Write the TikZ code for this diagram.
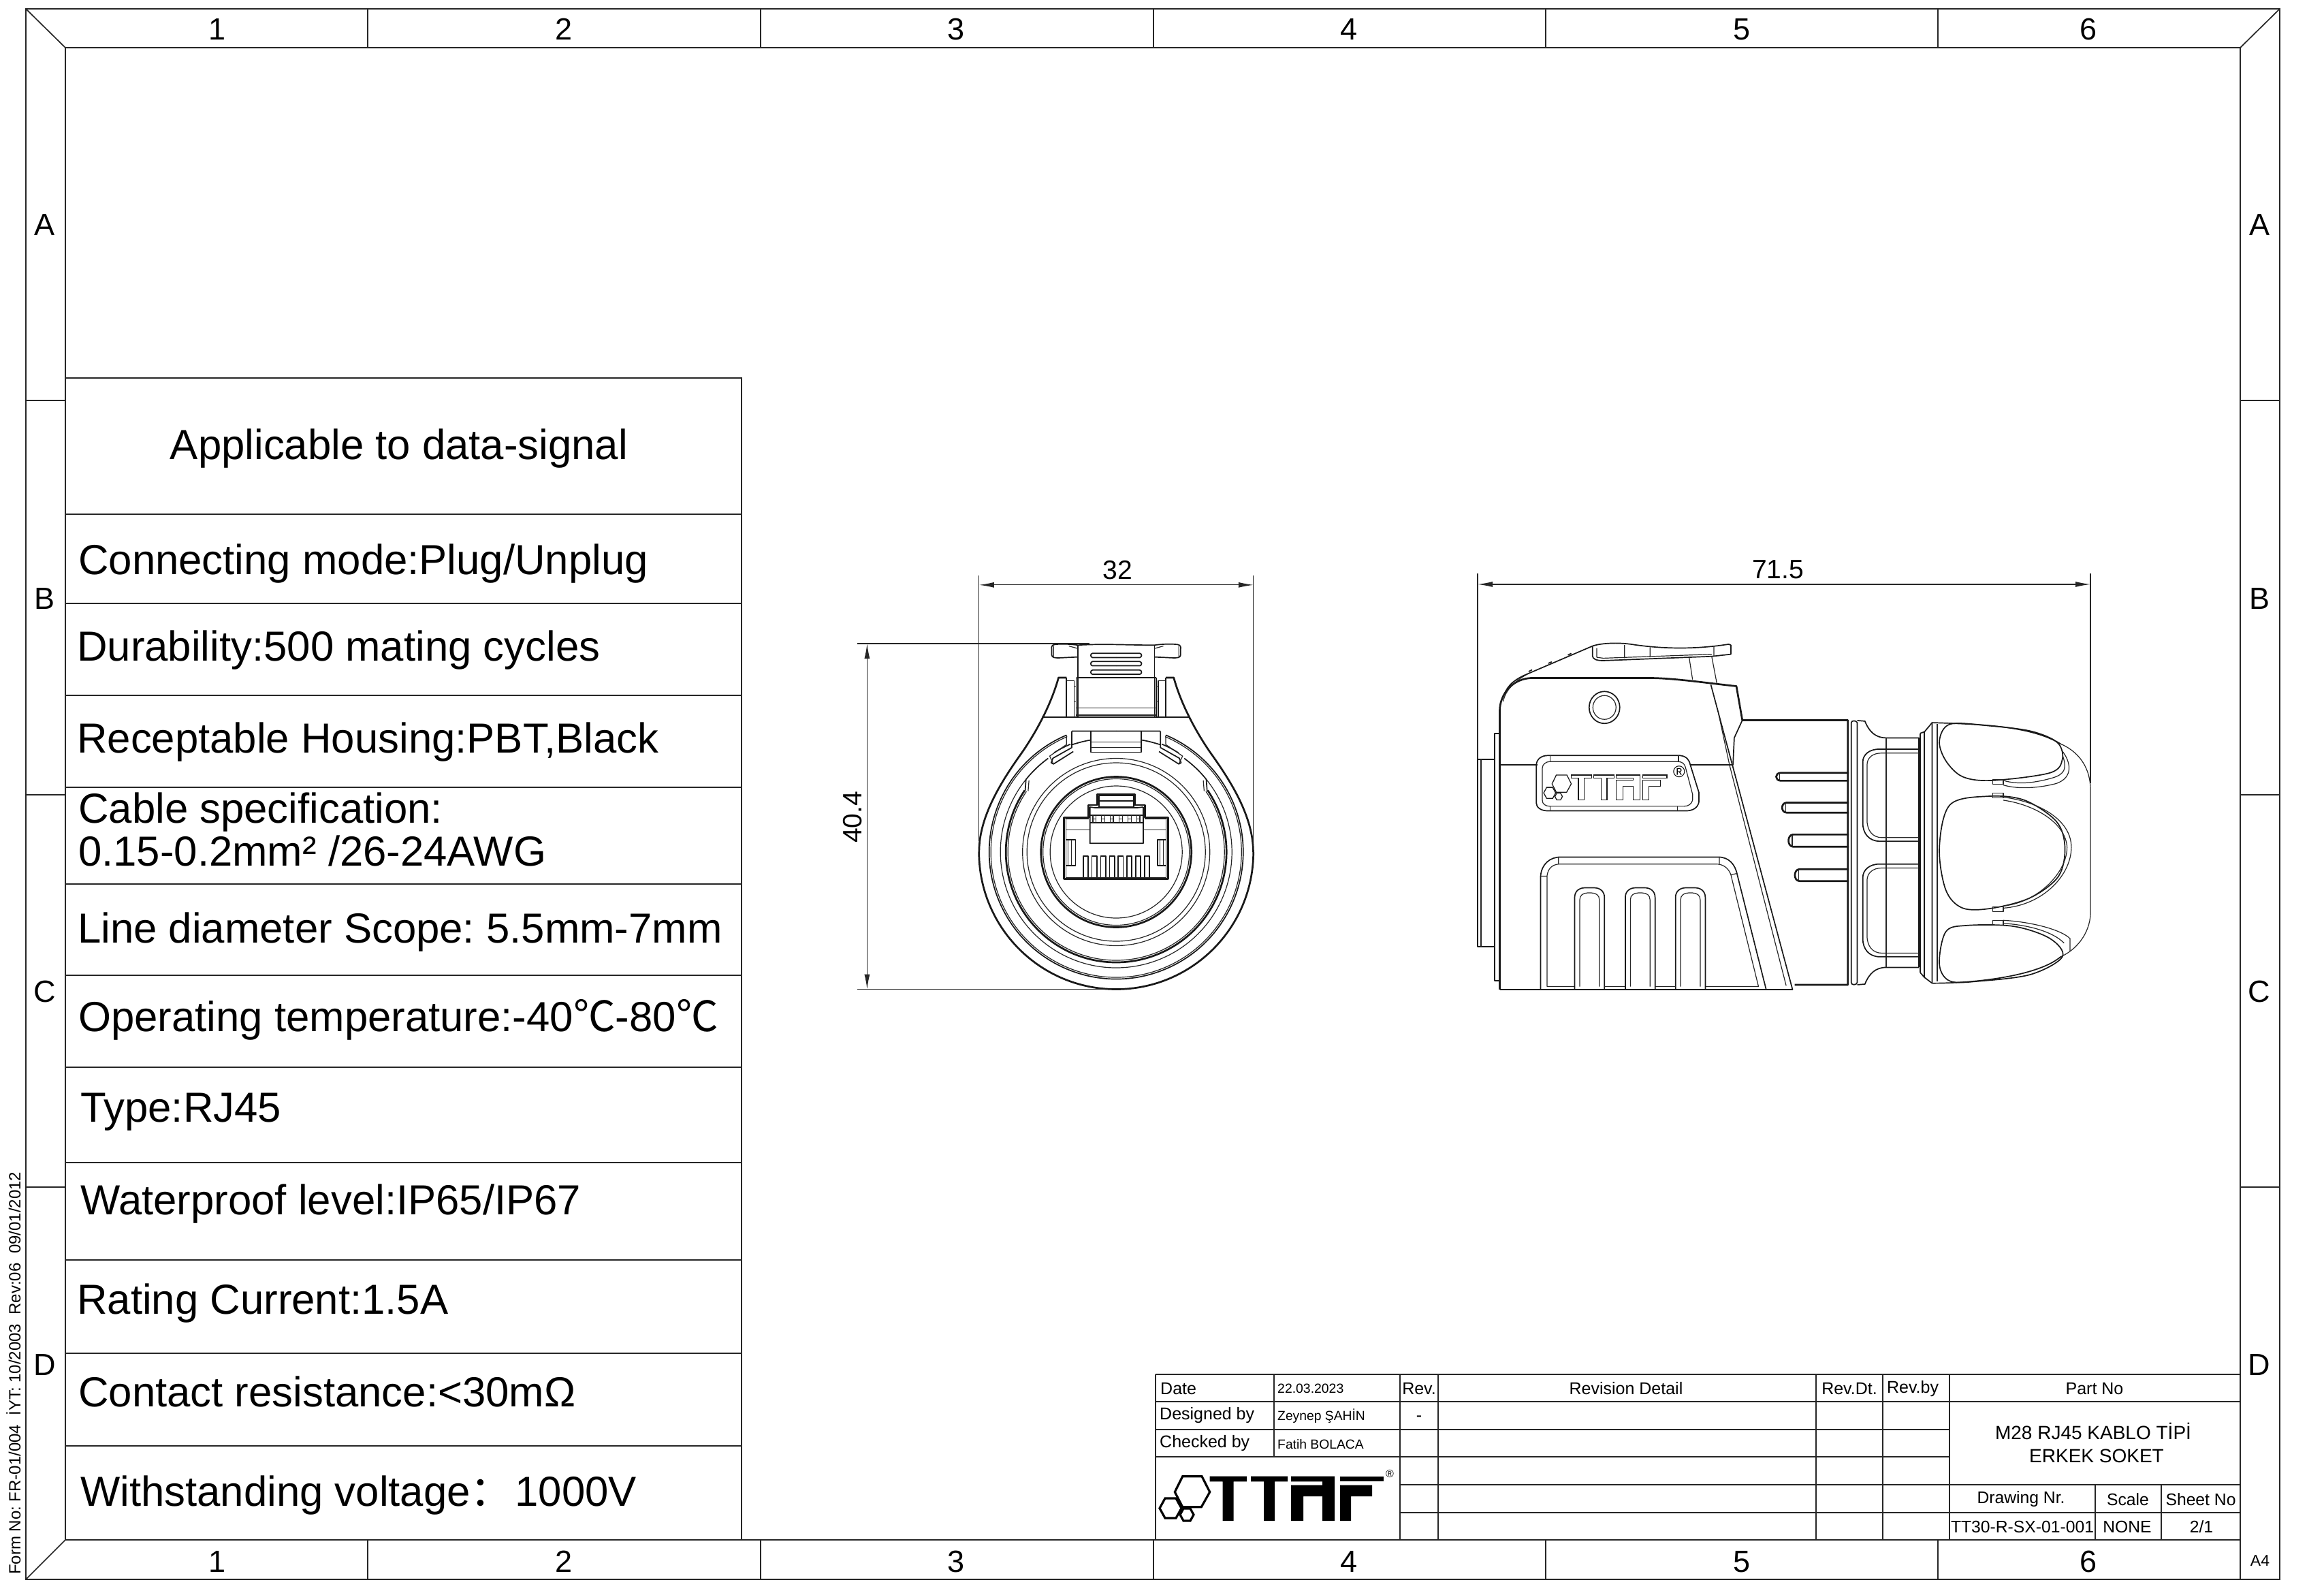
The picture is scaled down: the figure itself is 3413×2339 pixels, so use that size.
\documentclass[tikz,border=0pt]{standalone}
\usepackage{fontspec}
\setmainfont{Liberation Sans}
\newfontfamily\cjk{Noto Sans CJK SC}
\usetikzlibrary{arrows.meta}
\frenchspacing
\newcommand\fsz[1]{\fontsize{#1}{#1}\selectfont}
\tikzset{
 fz/.style={x=0.43384pt,y=-0.44643pt,shift={(1240pt,-820pt)}},
 sz/.style={x=0.625pt,y=-0.44643pt,shift={(2170pt,-820pt)}},
 rz/.style={x=0.33333pt,y=-0.33333pt,shift={(1500pt,-1120pt)}},
 cz/.style={x=1pt,y=1pt,shift={(1639.2pt,-1251pt)}},
 frame/.style={line width=1.7pt,draw=black!85,line join=miter},
 thn/.style={line width=1.2pt,draw=black!85,line join=round},
 med/.style={line width=1.7pt,draw=black!90,line join=round},
 thk/.style={line width=2.7pt,draw=black!90,line join=round},
 dimln/.style={line width=1.2pt,draw=black!85},
 dimarr/.style={dimln,{Latex[length=22pt,width=8pt]}-{Latex[length=22pt,width=8pt]}},
 txt/.style={inner sep=0pt,anchor=base west,text=black},
 ctr/.style={inner sep=0pt,anchor=base,text=black},
}
\newcommand\bigtxt[4]{\node[txt,font=\fsz{61.7}] (#1) at (#2,#3) {#4};}
\newcommand\ttb[5]{\node[ctr,font=\fsz{#4}] (#1) at (#2,#3) {#5};}
\newcommand\ttl[5]{\node[txt,font=\fsz{#4}] (#1) at (#2,#3) {#5};}
\newcommand\ttaflogo[2]{%
 \draw[#1] (1725.3,2190.7)--(1736.7,2167.7)--(1765,2167.7)--(1776.7,2190.7)--(1764.3,2212.7)--(1736.7,2212.7)--cycle;
 \draw[#1] (1703,2214.5)--(1711,2200)--(1727,2200)--(1735,2214.5)--(1727,2229)--(1711,2229)--cycle;
 \draw[#1] (1733,2224)--(1738,2215)--(1748,2215)--(1753,2224)--(1748,2233)--(1738,2233)--cycle;
 \path[#2] (1776.5,2167.7)--(1831,2167.7)--(1831,2175.3)--(1811.6,2175.3)--(1811.6,2233)--(1795.7,2233)--(1795.7,2175.3)--(1776.5,2175.3)--cycle;
 \path[#2] (1837,2167.7)--(1891,2167.7)--(1891,2175.3)--(1872,2175.3)--(1872,2233)--(1856,2233)--(1856,2175.3)--(1837,2175.3)--cycle;
 \path[#2] (1896,2167.7)--(1960,2167.7)--(1960,2233)--(1942,2233)--(1942,2197)--(1914,2197)--(1914,2233)--(1896,2233)--(1896,2180.7)--(1942,2180.7)--(1942,2175.3)--(1896,2175.3)--cycle;
 \path[#2] (1968,2167.7)--(2032,2167.7)--(2032,2175.3)--(1968,2175.3)--cycle;
 \path[#2] (1968,2180.7)--(2015,2180.7)--(2015,2197)--(1984,2197)--(1984,2233)--(1968,2233)--cycle;
}
\begin{document}
\begin{tikzpicture}[x=1pt,y=-1pt]
\useasboundingbox (0,0) rectangle (3413,2339);
% ---------- sheet frame
\draw[frame] (38,13) rectangle (3348,2319);
\draw[frame] (96,70) rectangle (3290,2261);
\draw[frame] (38,13)--(96,70) (3348,13)--(3290,70) (38,2319)--(96,2261);
\foreach \x in {540,1117,1694,2270,2846} \draw[frame] (\x,13)--(\x,70) (\x,2261)--(\x,2319);
\draw[frame] (3290,2261)--(3290,2319);
\foreach \y in {588,1167,1743} \draw[frame] (38,\y)--(96,\y) (3290,\y)--(3348,\y);
\foreach \n/\x in {1/319,2/828,3/1404,4/1981,5/2558,6/3067}{
 \node[ctr,font=\fsz{45}] (top\n) at (\x,59) {\n};
 \node[ctr,font=\fsz{45}] (bot\n) at (\x,2308) {\n};}
\foreach \n/\y in {A/345,B/894,C/1471,D/2019}{
 \node[ctr,font=\fsz{45}] (lf\n) at (66,\y) {\n};
 \node[ctr,font=\fsz{45}] (rt\n) at (3318,\y) {\n};}
\node[inner sep=0pt,anchor=base west,rotate=90,font=\fsz{24}] (form) at (30,2312) {Form No: FR-01/004\ \ İYT: 10/2003\ \ Rev:06\ \ 09/01/2012};
% ---------- specification table
\draw[frame] (96,555) rectangle (1089,2261);
\foreach \y in {755,886,1021,1156,1298,1432,1567,1707,1850,1987,2123} \draw[frame] (96,\y)--(1089,\y);
\node[ctr,font=\fsz{61.7}] (s0) at (586,674) {Applicable to data-signal};
\bigtxt{s1}{115}{843}{Connecting mode:Plug/Unplug}
\bigtxt{s2}{113}{970}{Durability:500 mating cycles}
\bigtxt{s3}{113}{1105}{Receptable Housing:PBT,Black}
\bigtxt{s4a}{115}{1208}{Cable specification:}
\bigtxt{s4b}{115}{1271}{0.15-0.2mm² /26-24AWG}
\bigtxt{s5}{114}{1384}{Line diameter Scope: 5.5mm-7mm}
\bigtxt{s6}{115}{1514}{Operating temperature:-40{\cjk ℃}-80{\cjk ℃}}
\bigtxt{s7}{118}{1647}{Type:RJ45}
\bigtxt{s8}{118}{1783}{Waterproof level:IP65/IP67}
\bigtxt{s9}{113}{1929}{Rating Current:1.5A}
\bigtxt{s10}{115}{2065}{Contact resistance:<30mΩ}
\bigtxt{s11}{118}{2211}{Withstanding voltage{\cjk ：}\hspace{4pt}1000V}
% ---------- title block
\draw[frame] (1697,2018)--(3290,2018) (1697,2018)--(1697,2261);
\draw[frame] (1697,2058)--(3290,2058) (1697,2099)--(2863,2099) (1697,2139)--(2863,2139);
\draw[frame] (2056,2180)--(3290,2180) (2056,2221)--(3290,2221);
\draw[frame] (1871,2018)--(1871,2139);
\foreach \x in {2056,2112,2667,2765,2863} \draw[frame] (\x,2018)--(\x,2261);
\foreach \x in {3077,3174} \draw[frame] (\x,2180)--(\x,2261);
\ttl{t1}{1704}{2047}{25}{Date}
\ttl{t2}{1703}{2084}{25}{Designed by}
\ttl{t3}{1703}{2125}{25}{Checked by}
\ttl{t4}{1876}{2045}{19.4}{22.03.2023}
\ttl{t5}{1876}{2085}{19.3}{Zeynep ŞAHİN}
\ttl{t6}{1876}{2127}{19.3}{Fatih BOLACA}
\ttb{t7}{2084}{2047}{25}{Rev.}
\ttb{t8}{2084}{2086}{25}{-}
\ttb{t9}{2388}{2047}{25}{Revision Detail}
\ttb{t10}{2716}{2047}{25}{Rev.Dt.}
\ttb{t11}{2809}{2045}{25}{Rev.by}
\ttb{t12}{3076}{2047}{25}{Part No}
\ttb{t13}{3074}{2113}{28}{M28 RJ45 KABLO TİPİ}
\ttb{t14}{3079}{2147}{28}{ERKEK SOKET}
\ttb{t15}{2968}{2207}{24.7}{Drawing Nr.}
\ttb{t16}{3125}{2210}{24.7}{Scale}
\ttb{t17}{3232}{2210}{24.7}{Sheet No}
\ttb{t18}{2970}{2250}{24.7}{TT30-R-SX-01-001}
\ttb{t19}{3124}{2250}{24.7}{NONE}
\ttb{t20}{3233}{2250}{24.7}{2/1}
\ttb{t21}{3319}{2299}{23}{A4}
\ttaflogo{line width=3.2pt,draw=black,line join=miter}{fill=black}
\node[ctr,font=\fsz{16}] (reg1) at (2041,2169) {®};
% ---------- front view dimensions
\begin{scope}[fz]
 \coordinate (fdl) at (456,87); \coordinate (fdr) at (1385,87);
 \coordinate (fvt) at (77,280); \coordinate (fvb) at (77,1417);
 \draw[dimln] (456,55)--(456,930) (1385,55)--(1385,960);
 \draw[dimln] (43,280)--(830,280) (43,1417)--(880,1417);
 \draw[dimarr] (fdl)--(fdr);
 \draw[dimarr] (fvt)--(fvb);
\end{scope}
\node[ctr,font=\fsz{39}] (d32) at (1641,850) {32};
\node[ctr,font=\fsz{39},rotate=90] (d404) at (1265,1200) {40.4};
\node[ctr,font=\fsz{39}] (d715) at (2611,849) {71.5};
% ---------- front view, circles
\begin{scope}[cz]
 \draw[thk] (180:201.5) arc[start angle=180,end angle=360,radius=201.5];
 \draw[med] (113:186.5) arc[start angle=113,end angle=427,radius=186.5];
 \draw[thn] (113:184) arc[start angle=113,end angle=427,radius=184];
 \draw[med] (113:172) arc[start angle=113,end angle=122,radius=172];
 \draw[med] (67:172) arc[start angle=67,end angle=58,radius=172];
 \draw[thn] (141:170) arc[start angle=141,end angle=399,radius=170];
 \draw[med] (126:170) arc[start angle=126,end angle=141,radius=170];
 \draw[med] (54:170) arc[start angle=54,end angle=39,radius=170];
 \draw[thk] (146:162) arc[start angle=146,end angle=394,radius=162];
 \draw[thn] (146:159) arc[start angle=146,end angle=394,radius=159];
 \draw[thn] (0,0) circle[radius=137.5pt] (0,0) circle[radius=131pt];
 \draw[thk] (0,0) circle[radius=110.5pt];
 \draw[thn] (0,0) circle[radius=107.5pt];
 \draw[thn] (0,0) circle[radius=97pt];
\end{scope}
% ---------- front view, top part and mirrored half
\begin{scope}[fz]
 \foreach \m/\sc in {0/1,1840/-1}{
 \begin{scope}[shift={(\m,0)},xscale=\sc]
  \draw[thk] (456,965) .. controls (456,850) and (530,735) .. (600,640) .. controls (650,570) and (700,480) .. (725,392)--(752,392);
  \draw[med] (752,392)--(752,522) (752,402)--(778,402)--(778,522) (785,392)--(785,522) (790,285)--(790,522);
  \draw[thn] (778,420)--(785,420) (778,470)--(785,470);
  \draw[med] (790,285) .. controls (770,282) and (735,280) .. (712,283) .. controls (702,285) and (700,290) .. (702,300) --(702,318) .. controls (703,326) and (712,327) .. (725,327) -- (790,324);
  \draw[thn] (708,288)--(708,322) (760,288) -- (790,296);
  \draw[med] (770,568)--(920,568) (770,568)--(770,622)--(706,657)--(700,672)--(708,676)--(775,635);
  \draw[med] (835,568)--(835,637)--(920,637);
  \draw[thn] (835,603)--(920,603) (835,622)--(920,622);
  \draw[thn] (752,582)--(752,612)--(695,650)--(708,676);
  \draw[med] (772,612) .. controls (795,605) and (815,600) .. (835,597);
  \draw[med] (612,765)--(615,725);
  \draw[thn] (622,765)--(625,730);
  % slots
  \draw[med] (920,312)--(840,312) .. controls (832,313) and (832,324) .. (840,326)--(920,326);
  \draw[med] (920,339)--(840,339) .. controls (832,340) and (832,352) .. (840,353)--(920,353);
  \draw[med] (920,367)--(840,367) .. controls (832,368) and (832,380) .. (840,381)--(920,381);
 \end{scope}}
 \draw[med] (790,285) .. controls (880,280) and (960,285) .. (1050,285);
 \draw[med] (668,522)--(1172,522);
 \draw[med] (785,392)--(1055,392);
 \draw[thn] (785,492)--(1055,492) (785,515)--(1055,515);
\end{scope}
% ---------- RJ45 jack
\begin{scope}[rz]
 \draw[thk] (296,242)--(188,242)--(188,512)--(646,512)--(646,242)--(544,242)--(544,186)--(500,186)--(500,138)--(334,138)--(334,186)--(296,186)--cycle;
 \draw[thn] (196,248)--(296,248) (544,248)--(638,248) (196,248)--(196,505)--(638,505)--(638,248);
 \draw[med] (342,145)--(342,195)--(495,195)--(495,145)--cycle (342,168)--(495,168);
 \draw[med] (325,198)--(510,198);
 \draw[med] (302,195)--(302,355)--(537,355)--(537,195) (302,195)--(325,198) (510,198)--(537,195);
 \draw[med] (302,230)--(537,230) (302,265)--(537,265);
 \foreach \x in {315,328,352,368,392,405,430,445,470,485,508,522} \draw[thn] (\x,230)--(\x,265);
 \foreach \x in {315,352,392,430,470,508} \draw[thn] (\x,247)--(\x+14,247);
 \draw[thn] (196,295)--(302,295) (537,295)--(638,295);
 \draw[med] (196,338)--(238,338)--(238,453)--(196,453) (638,338)--(600,338)--(600,453)--(638,453);
 \draw[thn] (206,338)--(206,453) (220,338)--(220,453) (610,338)--(610,453) (625,338)--(625,453);
 \foreach \x in {272,310,349,388,426,464,503,542} \draw[med] (\x,505)--(\x,412)--(\x+22,412)--(\x+22,505);
\end{scope}
% ---------- side view
\begin{scope}[sz]
 \coordinate (sdl) at (0,85); \coordinate (sdr) at (1440,85);
 \draw[dimln] (0,50)--(0,660) (1440,50)--(1440,740);
 \draw[dimarr] (sdl)--(sdr);
 % body
 \draw[thk] (52,1418)--(52,500) .. controls (52,450) and (80,393) .. (130,393)--(400,393) .. controls (460,393) and (540,410) .. (608,420)--(622,532)--(870,532)--(870,1402)--(745,1402);
 \draw[thk] (52,1418)--(740,1418);
 \draw[med] (548,415)--(740,1418);
 \draw[thn] (566,510)--(592,680)--(725,1405);
 \draw[med] (622,532)--(603,590)--(600,680);
 \draw[thn] (60,470) .. controls (66,430) and (90,400) .. (120,378);
 % nose
 \draw[med] (40,660)--(0,660)--(0,1276)--(40,1276);
 \draw[med] (52,575)--(40,575)--(40,1388)--(52,1388);
 \draw[thn] (8,660)--(8,1276);
 \draw[med] (52,678)--(140,678) (500,678)--(600,678);
 % latch
 \draw[med] (62,450) .. controls (70,415) and (90,395) .. (120,378)--(270,288) .. controls (290,278) and (330,276) .. (360,282) .. controls (420,295) and (500,302) .. (590,282)--(595,285)--(595,315)--(550,322)--(295,336) .. controls (278,336) and (270,330) .. (270,320)--(270,288);
 \draw[thn] (280,295)--(280,325)--(295,328)--(550,315) (345,285)--(345,328) (405,292)--(405,325) (555,288)--(555,320);
 \draw[thn] (497,325)--(505,398) (550,322)--(562,410);
 \draw[med] (120,372)--(128,366) (166,345)--(174,340) (212,318)--(220,312);
 \draw[med] (298,490) circle[x radius=22.5pt,y radius=23.5pt];
 \draw[thn] (298,490) circle[x radius=17pt,y radius=17.5pt];
 % badge
 \draw[med] (165,648)--(475,648) .. controls (492,650) and (498,665) .. (500,680)--(520,770)--(520,800) .. controls (518,820) and (505,830) .. (490,830)--(165,830) .. controls (148,830) and (138,818) .. (138,805)--(138,680) .. controls (138,660) and (150,648) .. (165,648);
 \draw[thn] (170,668)--(470,668) .. controls (480,668) and (486,675) .. (488,685)--(505,775)--(505,795) .. controls (503,808) and (495,815) .. (485,815)--(170,815) .. controls (160,815) and (152,808) .. (152,795)--(152,690) .. controls (152,678) and (160,668) .. (170,668);
 \draw[thn] (170,648)--(170,668) (472,648)--(472,668) (470,815)--(470,830) (170,815)--(170,830);
 % lower cover
 \draw[med] (148,1418)--(148,1045) .. controls (150,1005) and (170,982) .. (195,982)--(565,982) .. controls (590,982) and (605,1005) .. (610,1040)--(678,1418);
 \draw[thn] (163,1408)--(163,1045) .. controls (165,1020) and (175,1005) .. (195,1005)--(560,1005) .. controls (578,1005) and (590,1020) .. (595,1040)--(660,1408)--(535,1408);
 \draw[thn] (148,1045)--(163,1045) (190,982)--(190,1005) (568,982)--(568,1005) (595,1040)--(610,1036) (163,1408)--(228,1408);
 \foreach \x in {228,347,465}{
  \draw[med] (\x,1418)--(\x,1115) .. controls (\x,1095) and (\x+10,1083) .. (\x+25,1083)--(\x+45,1083) .. controls (\x+60,1083) and (\x+70,1095) .. (\x+70,1115)--(\x+70,1418);
  \draw[thn] (\x+12,1408)--(\x+12,1122) .. controls (\x+12,1108) and (\x+20,1100) .. (\x+30,1100)--(\x+40,1100) .. controls (\x+50,1100) and (\x+58,1108) .. (\x+58,1122)--(\x+58,1408);
 }
 \draw[thn] (298,1408)--(347,1408) (417,1408)--(465,1408);
 % ribs
 \draw[thk] (872,705)--(712,705) .. controls (698,706) and (698,730) .. (712,731)--(872,731);
 \draw[thk] (872,803)--(726,803) .. controls (712,804) and (712,835) .. (726,836)--(872,836);
 \draw[thk] (872,908)--(741,908) .. controls (727,909) and (727,947) .. (741,948)--(872,948);
 \draw[thk] (872,1022)--(756,1022) .. controls (742,1023) and (742,1060) .. (756,1061)--(872,1061);
 \draw[thn] (710,706)--(710,730) (724,804)--(724,835) (739,909)--(739,947) (754,1023)--(754,1060);
 % flange and neck
 \draw[med] (878,1395)--(878,540) .. controls (878,532) and (890,532) .. (892,540)--(892,1395) .. controls (890,1404) and (878,1404) .. (878,1395);
 \draw[med] (892,533)--(910,535) .. controls (920,570) and (935,590) .. (960,590)--(1037,590);
 \draw[med] (892,1402)--(910,1400) .. controls (920,1365) and (935,1345) .. (960,1345)--(1037,1345);
 \draw[thn] (960,590)--(960,1345);
 \draw[med] (1037,590)--(1037,1345);
 \draw[med] (1037,627)--(945,627) .. controls (920,627) and (905,645) .. (905,670)--(905,870) .. controls (905,905) and (920,930) .. (945,930)--(1037,930);
 \draw[thn] (1037,640)--(950,640) .. controls (928,640) and (915,655) .. (915,680)--(915,860) .. controls (915,895) and (928,918) .. (950,918)--(1037,918);
 \draw[med] (1037,1005)--(945,1005) .. controls (920,1005) and (905,1025) .. (905,1050)--(905,1250) .. controls (905,1285) and (920,1310) .. (945,1310)--(1037,1310);
 \draw[thn] (1037,1018)--(950,1018) .. controls (928,1018) and (915,1035) .. (915,1060)--(915,1240) .. controls (915,1275) and (928,1298) .. (950,1298)--(1037,1298);
 % nut
 \draw[med] (1040,575)--(1040,1362) (1050,570)--(1050,1378);
 \draw[med] (1040,575)--(1050,570)--(1068,540)  (1040,1362)--(1050,1378)--(1068,1397);
 \draw[thn] (1080,545)--(1080,1392);
 \draw[med] (1068,1397)--(1068,540) .. controls (1180,545) and (1300,550) .. (1370,610);
 \draw[thn] (1370,610) .. controls (1420,640) and (1440,700) .. (1440,760)--(1440,1170) .. controls (1438,1230) and (1410,1285) .. (1370,1310);
 \draw[med] (1370,1310) .. controls (1320,1370) and (1180,1397) .. (1068,1397);
 % fingers
 \draw[med] plot[smooth cycle,tension=.55] coordinates {(1110,545) (1200,550) (1300,568) (1362,605) (1374,660) (1345,705) (1210,730) (1140,718) (1100,665) (1085,600)};
 \draw[thn] (1372,630) .. controls (1395,670) and (1400,720) .. (1360,740) .. controls (1320,755) and (1270,760) .. (1235,745);
 \draw[thn] (1375,650) .. controls (1385,690) and (1380,710) .. (1350,722) .. controls (1310,738) and (1270,745) .. (1235,730);
 \draw[med] plot[smooth cycle,tension=.55] coordinates {(1110,810) (1200,782) (1285,795) (1360,865) (1380,950) (1365,1045) (1300,1115) (1210,1150) (1140,1150) (1100,1090) (1085,950)};
 \draw[thn] (1235,785) .. controls (1320,800) and (1395,860) .. (1395,950) .. controls (1395,1040) and (1330,1140) .. (1235,1150);
 \draw[thn] (1235,795) .. controls (1310,810) and (1382,870) .. (1385,950) .. controls (1385,1030) and (1320,1130) .. (1235,1143);
 \draw[med] plot[smooth cycle,tension=.55] coordinates {(1100,1228) (1150,1207) (1260,1210) (1345,1250) (1374,1310) (1300,1368) (1180,1390) (1110,1390) (1085,1335)};
 \draw[thn] (1235,1190) .. controls (1300,1195) and (1370,1220) .. (1392,1250)--(1392,1290);
 \draw[thn] (1235,1200) .. controls (1290,1205) and (1350,1225) .. (1378,1265);
 \foreach \yy in {727,772,1145,1190} \draw[thn] (1210,\yy)--(1210,\yy+16)--(1235,\yy+16)--(1235,\yy)--cycle;
\end{scope}
% ---------- logo on the side view badge
\begin{scope}[shift={(1330.35pt,75.9pt)},xscale=.55,yscale=.56]
 \ttaflogo{line width=1.3pt,draw=black!90,line join=miter}{line width=1.1pt,draw=black!90,line join=miter}
\end{scope}
\node[ctr,font=\fsz{24}] (reg2) at (2466,1141) {®};
\end{tikzpicture}
\end{document}
